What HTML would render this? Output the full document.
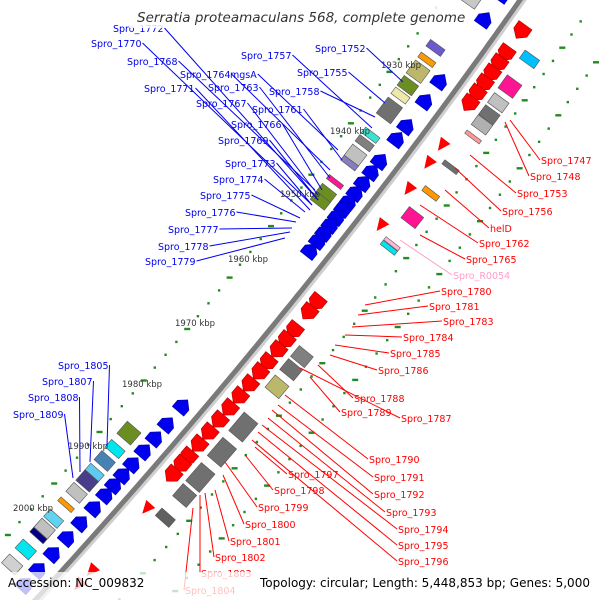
<!DOCTYPE html>
<html><head><meta charset="utf-8"><style>
html,body{margin:0;padding:0;background:#fff;overflow:hidden}
svg{display:block}
text{font-family:"DejaVu Sans","Liberation Sans",sans-serif}
</style></head><body>
<svg id="map" width="600" height="600" viewBox="0 0 600 600" xmlns="http://www.w3.org/2000/svg">
<rect width="600" height="600" fill="#fff"/>
<g id="bb"></g>
<g id="feat"></g>
<g id="lbl"></g>
<rect x="130" y="6" width="340" height="22" fill="#fff" opacity="0.85"/>
<text x="137" y="22" font-size="13.5" font-style="italic" fill="#333">Serratia proteamaculans 568, complete genome</text>
<rect x="0" y="572" width="600" height="28" fill="#fff" opacity="0.75"/>
<text x="8" y="587" font-size="12" fill="#000">Accession: NC_009832</text>
<text x="260" y="587" font-size="12" fill="#000" textLength="330" lengthAdjust="spacingAndGlyphs">Topology: circular; Length: 5,448,853 bp; Genes: 5,000</text>
</svg>
<script>
// feature data: foot y along backbone, side offset, length, color
const blueArrows=[5,30,92,112,137,150,172,183,194,204,213,220,228,236,244,252,262,418,436,450,463,476,487,497,507,520,535,550,566,582,597];
const leftBoxY=[22,72,84,96,110,120,135,160,168,180,188,207,218,226,460,476,488,500,508,520,532,546,556,563,577,592];
const leftBoxC=["#c8c8c8","#6a5acd","#ff9900","#bdb76b","#6b8e23","#eee8aa","#707070","#40e0d0","#808080","#c0c0c0","#8a7cc0","#ff1493","#6b8e23","#6b8e23","#6b8e23","#00e5ee","#4682b4","#5fc9f0","#483d8b","#c0c0c0","#ff9900","#5fd3f0","#c0c0c0","#000080","#00e5ee","#d0d0d0"];
const leftBoxL=[14,8,6,16,12,8,20,7,8,14,6,5,10,10,16,10,12,10,14,12,5,10,12,6,12,12];
const redArrows=[20,42,52,62,72,82,92,290,300,318,328,338,350,360,372,384,396,408,420,432,444,452,462];
const redTris=[132,150,176,212,494,556,570];
const rightBoxY=[35,62,78,90,100,112,142,168,192,218,222,330,343,360,400,425,450,468,490];
const rightBoxC=["#00bfff","#ff1493","#c0c0c0","#707070","#b0b0b0","#ff9999","#707070","#ff9900","#ff1493","#ffb6d9","#00e5ee","#808080","#707070","#bdb76b","#707070","#707070","#707070","#707070","#606060"];
const rightBoxL=[10,16,12,12,12,4,5,6,14,4,5,14,14,16,24,24,24,16,10];
const kbpLabels=["1930 kbp","1940 kbp","1950 kbp","1960 kbp","1970 kbp","1980 kbp","1990 kbp","2000 kbp"];
const kbpPos=[[381,68],[330,134],[280,197],[228,262],[175,326],[122,387],[68,449],[13,511]];
const blueNames=["Spro_1772","Spro_1770","Spro_1768","Spro_1764","mgsA","Spro_1763","Spro_1771","Spro_1767","Spro_1761","Spro_1766","Spro_1769","Spro_1757","Spro_1755","Spro_1752","Spro_1758","Spro_1773","Spro_1774","Spro_1775","Spro_1776","Spro_1777","Spro_1778","Spro_1779","Spro_1805","Spro_1807","Spro_1808","Spro_1809"];
const blueXY=[[113,32],[91,47],[127,65],[180,78],[230,78],[208,91],[144,92],[196,107],[252,113],[231,128],[218,144],[241,59],[297,76],[315,52],[269,95],[225,167],[213,183],[200,199],[185,216],[168,233],[158,250],[145,265],[58,369],[42,385],[28,401],[13,418]];
const blueTo=[[318,200],[312,205],[315,190],[330,170],[338,150],[330,178],[310,210],[318,195],[342,160],[322,190],[318,200],[372,128],[385,103],[403,82],[375,117],[312,205],[305,212],[300,218],[296,222],[292,228],[290,232],[285,238],[107,446],[90,462],[80,472],[73,478]];
const redNames=["Spro_1747","Spro_1748","Spro_1753","Spro_1756","helD","Spro_1762","Spro_1765","Spro_R0054","Spro_1780","Spro_1781","Spro_1783","Spro_1784","Spro_1785","Spro_1786","Spro_1788","Spro_1789","Spro_1787","Spro_1790","Spro_1791","Spro_1792","Spro_1793","Spro_1794","Spro_1795","Spro_1796","Spro_1797","Spro_1798","Spro_1799","Spro_1800","Spro_1801","Spro_1802","Spro_1803","Spro_1804"];
const redXY=[[541,164],[530,180],[517,197],[502,215],[490,232],[479,247],[466,263],[453,279],[441,295],[429,310],[443,325],[403,341],[390,357],[378,374],[354,402],[341,416],[401,422],[369,463],[374,481],[374,498],[386,516],[398,533],[398,549],[398,565],[288,478],[274,494],[258,511],[245,528],[230,545],[215,561],[201,577],[185,594]];
const redTo=[[510,120],[505,122],[470,155],[455,168],[445,190],[420,205],[420,235],[400,240],[365,305],[358,315],[352,327],[345,335],[335,345],[330,355],[318,365],[310,377],[300,368],[285,395],[278,405],[272,410],[268,418],[262,425],[258,432],[252,440],[255,447],[245,455],[225,462],[223,475],[215,490],[205,493],[200,495],[193,508]];

const NS="http://www.w3.org/2000/svg";
function X(y){return 520-0.7*y-0.00018*y*y;}
function frame(y){const a=0.7+0.00036*y;const n=Math.hypot(a,1);return {t:[a/n,-1/n],n:[1/n,a/n]};}
function pt(y,d,u){const f=frame(y);u=u||0;return [X(y)+d*f.n[0]+u*f.t[0], y+d*f.n[1]+u*f.t[1]];}
function poly(y,d,local,fill,parent,stroke){
  const f=frame(y);const x0=X(y)+d*f.n[0], y0=y+d*f.n[1];
  const s=local.map(([u,v])=>(x0+u*f.t[0]+v*f.n[0]).toFixed(1)+","+(y0+u*f.t[1]+v*f.n[1]).toFixed(1)).join(" ");
  const p=document.createElementNS(NS,"polygon");p.setAttribute("points",s);p.setAttribute("fill",fill);
  if(stroke){p.setAttribute("stroke",stroke);p.setAttribute("stroke-width","0.6");}
  parent.appendChild(p);return p;}
const bb=document.getElementById("bb"),feat=document.getElementById("feat"),lbl=document.getElementById("lbl");
(function(){let d1="",d2="";for(let y=-10;y<=610;y+=5){const p=pt(y,0),q=pt(y,3);d1+=(y===-10?"M":"L")+p[0].toFixed(1)+","+p[1].toFixed(1);d2+=(y===-10?"M":"L")+q[0].toFixed(1)+","+q[1].toFixed(1);}
const sh=document.createElementNS(NS,"path");sh.setAttribute("d",d2);sh.setAttribute("stroke","#cfcfcf");sh.setAttribute("stroke-width","5");sh.setAttribute("fill","none");


bb.appendChild(sh);
const b=document.createElementNS(NS,"path");b.setAttribute("d",d1);b.setAttribute("stroke","#7a7a7a");b.setAttribute("stroke-width","5");b.setAttribute("fill","none");


bb.appendChild(b);})();
for(let y=-20;y<=620;y+=13){
  [-64,62,98].forEach((d,i)=>{const p=pt(y+(i%2)*6,d);const c=document.createElementNS(NS,"rect");
    const big=(Math.round(y/13)%4===0);
    c.setAttribute("x",(p[0]-(big?3:1.2)).toFixed(1));c.setAttribute("y",(p[1]-1.2).toFixed(1));c.setAttribute("width",big?6:2.4);c.setAttribute("height",2.4);c.setAttribute("fill","#228b22");
    
    
    feat.appendChild(c);});
}
blueArrows.forEach(y=>{const L=13,w=15;
  const p=poly(y,-18,[[-L/2,-w/2],[L/2-5,-w/2],[L/2+2,0],[L/2-5,w/2],[-L/2,w/2]],"#0000ee",feat,"#0000aa");
  
  });
leftBoxY.forEach((y,i)=>{const L=leftBoxL[i],w=18;
  const p=poly(y,-41,[[-L/2,-w/2],[L/2,-w/2],[L/2,w/2],[-L/2,w/2]],leftBoxC[i],feat,"#555");
  
  });
redArrows.forEach(y=>{const L=14,w=16;
  const p=poly(y,19,[[L/2,-w/2],[-L/2+5,-w/2],[-L/2-2,0],[-L/2+5,w/2],[L/2,w/2]],"#ff0000",feat,"#b00000");
  
  });
redTris.forEach(y=>{const p=poly(y,22,[[6,-6],[6,6],[-7,0]],"#ff0000",feat);
  
  });
rightBoxY.forEach((y,i)=>{const L=rightBoxL[i],w=18;
  const p=poly(y,42,[[-L/2,-w/2],[L/2,-w/2],[L/2,w/2],[-L/2,w/2]],rightBoxC[i],feat,"#555");
  
  });
kbpLabels.forEach((s,i)=>{const t=document.createElementNS(NS,"text");t.setAttribute("x",kbpPos[i][0]);t.setAttribute("y",kbpPos[i][1]);t.setAttribute("font-size","8.5");t.setAttribute("fill","#333");t.textContent=s;
  
  
  lbl.appendChild(t);});
function addLabel(name,xy,to,color,side){
  const t=document.createElementNS(NS,"text");t.setAttribute("x",xy[0]);t.setAttribute("y",xy[1]);t.setAttribute("font-size","9.5");t.setAttribute("fill",color);t.textContent=name;
  
  
  lbl.appendChild(t);
  const w=t.getComputedTextLength?t.getComputedTextLength():name.length*6;
  const sx=side<0?xy[0]+w+1:xy[0]-1, sy=xy[1]-4;
  const l=document.createElementNS(NS,"line");l.setAttribute("x1",sx);l.setAttribute("y1",sy);l.setAttribute("x2",to[0]);l.setAttribute("y2",to[1]);l.setAttribute("stroke",color);l.setAttribute("stroke-width","1");
  
  
  lbl.appendChild(l);}
blueNames.forEach((n,i)=>addLabel(n,blueXY[i],blueTo[i],"#0000ee",-1));
redNames.forEach((n,i)=>addLabel(n,redXY[i],redTo[i],n==="Spro_R0054"?"#ff9ec8":"#ff0000",1));
</script>
</body></html>
